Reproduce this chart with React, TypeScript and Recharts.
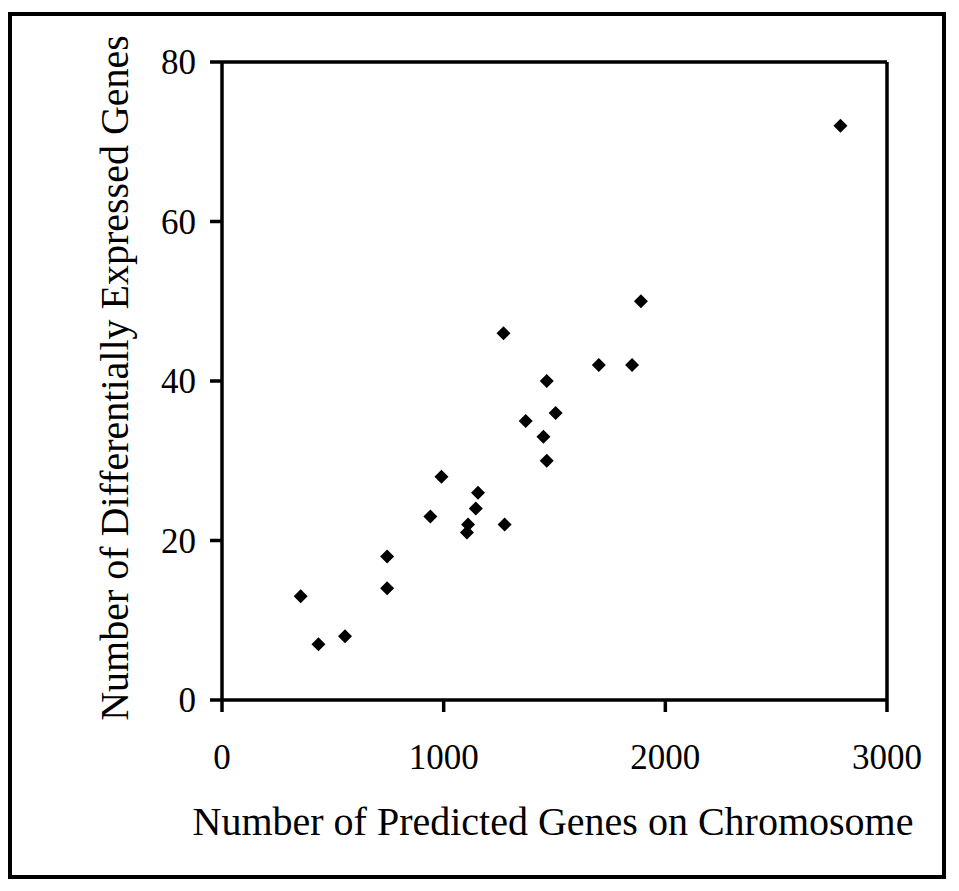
import { ReferenceLine, Scatter, ScatterChart, XAxis, YAxis } from 'recharts';

// predicted genes per chromosome vs differentially expressed genes
const predictedGenes = [2790, 1890, 1270, 1700, 1850, 1465, 1505, 1370, 1450, 1465, 990, 1155, 1145, 940, 1110, 1275, 1105, 745, 745, 355, 555, 435];
const diffExpressed = [72, 50, 46, 42, 42, 40, 36, 35, 33, 30, 28, 26, 24, 23, 22, 22, 21, 18, 14, 13, 8, 7];

const xTicks = [0, 1000, 2000, 3000];
const yTicks = [0, 20, 40, 60, 80];

const xTitle = 'Number of Predicted Genes on Chromosome';
const yTitle = 'Number of Differentially Expressed Genes';

const points = predictedGenes.map((x, i) => ({ x, y: diffExpressed[i] }));

const FONT = '"Liberation Serif", "Times New Roman", serif';
const LINE = 3.5;

function Diamond(props: any) {
  const { cx, cy } = props;
  const r = 7;
  return <path d={`M${cx},${cy - r}L${cx + r},${cy}L${cx},${cy + r}L${cx - r},${cy}Z`} fill="#000" />;
}

function XTitle() {
  return (
    <text x={553} y={835} textAnchor="middle" fontFamily={FONT} fontSize={40} fill="#000">
      {xTitle}
    </text>
  );
}

function YTitle() {
  return (
    <text x={128} y={378} textAnchor="middle" fontFamily={FONT} fontSize={40} fill="#000" transform="rotate(-90, 128, 378)">
      {yTitle}
    </text>
  );
}

export default function App() {
  return (
    <div style={{ position: 'relative', width: 959, height: 891, margin: -8, background: '#fff' }}>
      <div
        style={{
          position: 'absolute',
          left: 8,
          top: 12,
          width: 938,
          height: 867,
          border: '4px solid #000',
          boxSizing: 'border-box',
        }}
      />
      <ScatterChart width={959} height={891} margin={{ top: 62, right: 72, bottom: 131, left: 122 }} style={{ position: 'absolute', left: 0, top: 0 }}>
        <XAxis
          type="number"
          dataKey="x"
          domain={[0, 3000]}
          ticks={xTicks}
          height={60}
          tickSize={12}
          tickMargin={32}
          axisLine={{ stroke: '#000', strokeWidth: LINE }}
          tickLine={{ stroke: '#000', strokeWidth: LINE }}
          tick={{ fill: '#000', fontSize: 35, fontFamily: FONT }}
          label={<XTitle />}
        />
        <YAxis
          type="number"
          dataKey="y"
          domain={[0, 80]}
          ticks={yTicks}
          width={100}
          tickSize={12}
          tickMargin={14}
          axisLine={{ stroke: '#000', strokeWidth: LINE }}
          tickLine={{ stroke: '#000', strokeWidth: LINE }}
          tick={{ fill: '#000', fontSize: 35, fontFamily: FONT }}
          label={<YTitle />}
        />
        <ReferenceLine y={80} stroke="#000" strokeWidth={LINE} />
        <ReferenceLine x={3000} stroke="#000" strokeWidth={LINE} />
        <Scatter data={points} shape={<Diamond />} isAnimationActive={false} />
      </ScatterChart>
    </div>
  );
}
